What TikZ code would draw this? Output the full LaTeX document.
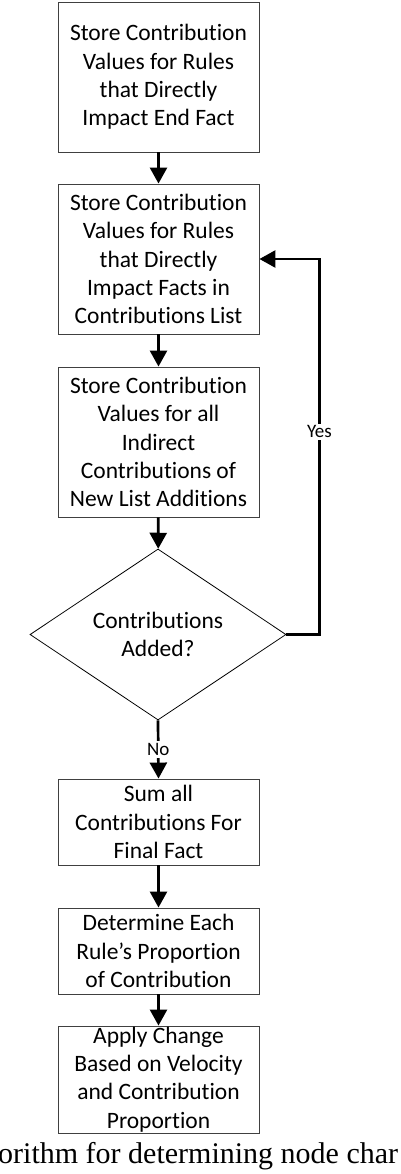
\documentclass[tikz,border=0pt]{standalone}
\usepackage{fontspec}
\setmainfont{Carlito}[Ligatures=NoCommon]
\newfontfamily\capfont{Liberation Serif}
\usetikzlibrary{arrows.meta,shapes.geometric}
\tikzset{
  box/.style={draw=black!75,line width=0.9pt,rectangle,minimum width=201pt,inner sep=0pt,
    align=center,font=\fontsize{23.5}{28.3}\selectfont},
  decision/.style={draw=black,line width=0.8pt,diamond,aspect=1.5,minimum width=256pt,
    minimum height=171pt,inner sep=0pt,align=center,font=\fontsize{23.5}{28.3}\selectfont},
  flow/.style={line width=2.7pt,-{Triangle[width=17pt,length=16pt]}},
  lbl/.style={fill=white,inner sep=2pt,font=\fontsize{19}{21}\selectfont}
}
\begin{document}
\begin{tikzpicture}[x=1pt,y=-1pt,line join=miter]
  \useasboundingbox (0,0) rectangle (400,1174);
  % Steps of the loop, the test, then the final three steps.
  \node[box,minimum height=150pt] (endfact) at (158.5,77) {Store Contribution\\Values for Rules\\that Directly\\Impact End Fact};
  \node[box,minimum height=150pt] (listfacts) at (158.5,259) {Store Contribution\\Values for Rules\\that Directly\\Impact Facts in\\Contributions List};
  \node[box,minimum height=150pt] (indirect) at (158.5,442) {Store Contribution\\Values for all\\Indirect\\Contributions of\\New List Additions};
  \node[decision] (added) at (158,634.5) {Contributions\\Added?};
  \node[box,minimum height=86pt] (sum) at (158.5,822) {Sum all\\Contributions For\\Final Fact};
  \node[box,minimum height=86pt] (share) at (158.5,951) {Determine Each\\Rule’s Proportion\\of Contribution};
  \node[box,minimum height=107pt] (apply) at (158.5,1079.5) {Apply Change\\Based on Velocity\\and Contribution\\Proportion};

  \draw[flow] (endfact) -- (listfacts);
  \draw[flow] (listfacts) -- (indirect);
  \draw[flow] (indirect) -- (added);
  \draw[flow] (added.east) -- ++(33,0) |- node[lbl,pos=0.27] {Yes} (listfacts.east);
  \draw[flow] (added.south) -- node[lbl] {No} (sum.north);
  \draw[flow] (sum) -- (share);
  \draw[flow] (share) -- (apply);

  \node[anchor=base west,inner sep=0pt,font=\capfont\fontsize{30}{32}\selectfont] (caption) at (-2,1163) {orithm for determining node char};
\end{tikzpicture}
\end{document}
